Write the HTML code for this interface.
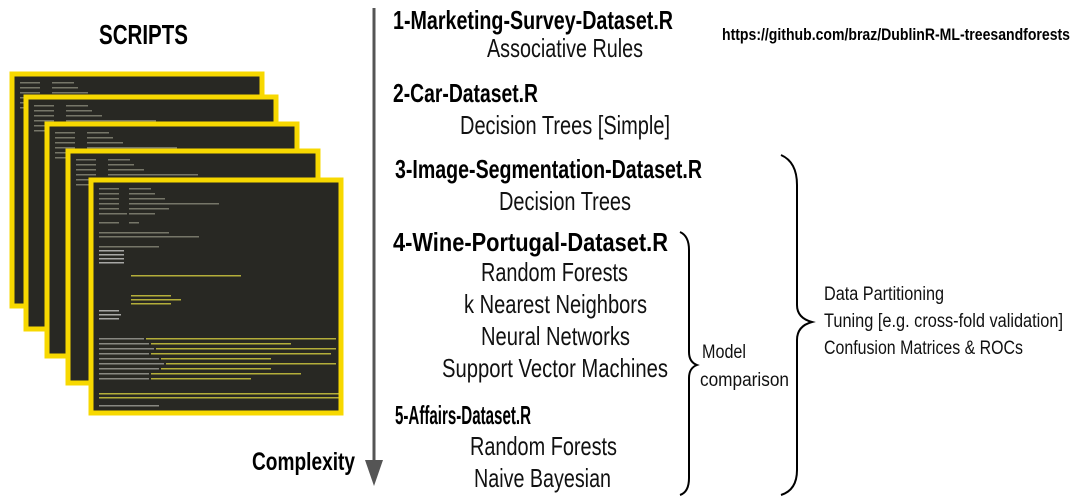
<!DOCTYPE html>
<html><head><meta charset="utf-8"><style>
html,body{margin:0;padding:0;background:#fff;width:1080px;height:504px;overflow:hidden}
svg{display:block}
.b{font-family:"Liberation Sans",sans-serif;font-weight:bold;fill:#000}
.r{font-family:"Liberation Sans",sans-serif;fill:#111}
</style></head><body>
<svg width="1080" height="504" viewBox="0 0 1080 504" xmlns="http://www.w3.org/2000/svg">
<defs>
<g id="scr">
<rect x="0" y="0" width="250" height="232" fill="#282823" stroke="#f7d800" stroke-width="5"/>
<g fill="#8a8a7a" opacity="0.8">
<rect x="8" y="8" width="20" height="1.5"/><rect x="40" y="8" width="22" height="1.5"/>
<rect x="8" y="13" width="20" height="1.5"/><rect x="40" y="13" width="26" height="1.5"/>
<rect x="8" y="18" width="20" height="1.5"/><rect x="40" y="18" width="36" height="1.5"/>
<rect x="8" y="23" width="20" height="1.5"/><rect x="40" y="23" width="90" height="1.5"/>
<rect x="8" y="28" width="20" height="1.5"/><rect x="40" y="28" width="40" height="1.5"/>
<rect x="8" y="33" width="28" height="1.5"/><rect x="40" y="33" width="26" height="1.5"/>
</g>
</g>
</defs>
<text class="b" x="99" y="44" font-size="28" textLength="89" lengthAdjust="spacingAndGlyphs">SCRIPTS</text>

<use href="#scr" x="12" y="74"/>
<use href="#scr" x="26" y="97"/>
<use href="#scr" x="47" y="124"/>
<use href="#scr" x="68" y="151"/>
<g transform="translate(91,180)">
<rect x="0" y="0" width="250" height="233" fill="#282823" stroke="#f7d800" stroke-width="5"/>
<g fill="#8a8a7a" opacity="0.8">
<rect x="8" y="8" width="20" height="1.5"/><rect x="38" y="8" width="22" height="1.5"/>
<rect x="8" y="13" width="20" height="1.5"/><rect x="38" y="13" width="26" height="1.5"/>
<rect x="8" y="18" width="20" height="1.5"/><rect x="38" y="18" width="36" height="1.5"/>
<rect x="8" y="23" width="20" height="1.5"/><rect x="38" y="23" width="90" height="1.5"/>
<rect x="8" y="28" width="20" height="1.5"/><rect x="38" y="28" width="40" height="1.5"/>
<rect x="8" y="33" width="28" height="1.5"/><rect x="38" y="33" width="26" height="1.5"/>
<rect x="8" y="42" width="20" height="1.5"/><rect x="38" y="42" width="10" height="1.5"/>
<rect x="8" y="52" width="70" height="1.5"/><rect x="8" y="56" width="100" height="1.5"/>
<rect x="8" y="66" width="60" height="1.5"/>
</g>
<g fill="#ddd" opacity="0.7">
<rect x="8" y="70" width="25" height="1.5"/><rect x="8" y="74" width="25" height="1.5"/><rect x="8" y="78" width="25" height="1.5"/><rect x="8" y="82" width="25" height="1.5"/>
<rect x="8" y="130" width="20" height="1.5"/><rect x="8" y="134" width="22" height="1.5"/><rect x="8" y="138" width="20" height="1.5"/>
</g>
<g fill="#d8d040" opacity="0.8">
<rect x="40" y="95" width="110" height="1.5"/>
<rect x="40" y="115" width="40" height="1.5"/><rect x="40" y="119" width="50" height="1.5"/><rect x="40" y="123" width="40" height="1.5"/>
<rect x="55" y="158" width="190" height="1.5"/><rect x="60" y="163" width="140" height="1.5"/><rect x="65" y="168" width="180" height="1.5"/>
<rect x="60" y="173" width="180" height="1.5"/><rect x="70" y="178" width="110" height="1.5"/><rect x="75" y="183" width="170" height="1.5"/>
<rect x="70" y="188" width="110" height="1.5"/><rect x="60" y="193" width="150" height="1.5"/><rect x="60" y="198" width="100" height="1.5"/>
<rect x="8" y="213" width="240" height="1.5"/><rect x="8" y="217" width="240" height="1.5"/>
</g>
<g fill="#c8c8c0" opacity="0.6">
<rect x="8" y="158" width="45" height="1.5"/><rect x="8" y="163" width="50" height="1.5"/><rect x="8" y="168" width="55" height="1.5"/>
<rect x="8" y="173" width="50" height="1.5"/><rect x="8" y="178" width="60" height="1.5"/><rect x="8" y="183" width="65" height="1.5"/>
<rect x="8" y="188" width="60" height="1.5"/><rect x="8" y="193" width="50" height="1.5"/><rect x="8" y="198" width="50" height="1.5"/>
<rect x="8" y="225" width="60" height="1.5"/>
</g>
</g>

<line x1="374" y1="8" x2="374" y2="465" stroke="#555" stroke-width="3"/>
<polygon points="365,460 383,460 374,486" fill="#555"/>
<text class="b" x="252" y="470" font-size="25" textLength="103" lengthAdjust="spacingAndGlyphs">Complexity</text>

<text class="b" x="393" y="29" font-size="26" textLength="280" lengthAdjust="spacingAndGlyphs">1-Marketing-Survey-Dataset.R</text>
<text class="r" x="487" y="57" font-size="26" textLength="156" lengthAdjust="spacingAndGlyphs">Associative Rules</text>
<text class="b" x="722" y="40" font-size="17" textLength="348" lengthAdjust="spacingAndGlyphs">https://github.com/braz/DublinR-ML-treesandforests</text>
<text class="b" x="393" y="102" font-size="26" textLength="145" lengthAdjust="spacingAndGlyphs">2-Car-Dataset.R</text>
<text class="r" x="460" y="134" font-size="26" textLength="210" lengthAdjust="spacingAndGlyphs">Decision Trees [Simple]</text>
<text class="b" x="395" y="178" font-size="26" textLength="307" lengthAdjust="spacingAndGlyphs">3-Image-Segmentation-Dataset.R</text>
<text class="r" x="499" y="210" font-size="26" textLength="132" lengthAdjust="spacingAndGlyphs">Decision Trees</text>
<text class="b" x="393" y="251" font-size="26" textLength="275" lengthAdjust="spacingAndGlyphs">4-Wine-Portugal-Dataset.R</text>
<text class="r" x="481" y="281" font-size="26" textLength="147" lengthAdjust="spacingAndGlyphs">Random Forests</text>
<text class="r" x="464" y="313" font-size="26" textLength="183" lengthAdjust="spacingAndGlyphs">k Nearest Neighbors</text>
<text class="r" x="481" y="345" font-size="26" textLength="149" lengthAdjust="spacingAndGlyphs">Neural Networks</text>
<text class="r" x="442" y="377" font-size="26" textLength="226" lengthAdjust="spacingAndGlyphs">Support Vector Machines</text>
<text class="b" x="395" y="424" font-size="26" textLength="136" lengthAdjust="spacingAndGlyphs">5-Affairs-Dataset.R</text>
<text class="r" x="470" y="455" font-size="26" textLength="147" lengthAdjust="spacingAndGlyphs">Random Forests</text>
<text class="r" x="474" y="487" font-size="26" textLength="137" lengthAdjust="spacingAndGlyphs">Naive Bayesian</text>

<path d="M680,232 Q689,236 689,250 L689,352 Q689,362 697,365 Q689,368 689,378 L689,478 Q689,492 680,495" fill="none" stroke="#000" stroke-width="2"/>
<text class="r" x="702" y="358" font-size="19" textLength="44" lengthAdjust="spacingAndGlyphs">Model</text>
<text class="r" x="700" y="386" font-size="19" textLength="89" lengthAdjust="spacingAndGlyphs">comparison</text>

<path d="M781,155 Q797,162 797,185 L797,305 Q797,318 812,322 Q797,326 797,340 L797,470 Q797,490 781,495" fill="none" stroke="#000" stroke-width="2"/>
<text class="r" x="824" y="300" font-size="19" textLength="120" lengthAdjust="spacingAndGlyphs">Data Partitioning</text>
<text class="r" x="824" y="327" font-size="19" textLength="239" lengthAdjust="spacingAndGlyphs">Tuning [e.g. cross-fold validation]</text>
<text class="r" x="824" y="354" font-size="19" textLength="199" lengthAdjust="spacingAndGlyphs">Confusion Matrices &amp; ROCs</text>
</svg>
</body></html>
